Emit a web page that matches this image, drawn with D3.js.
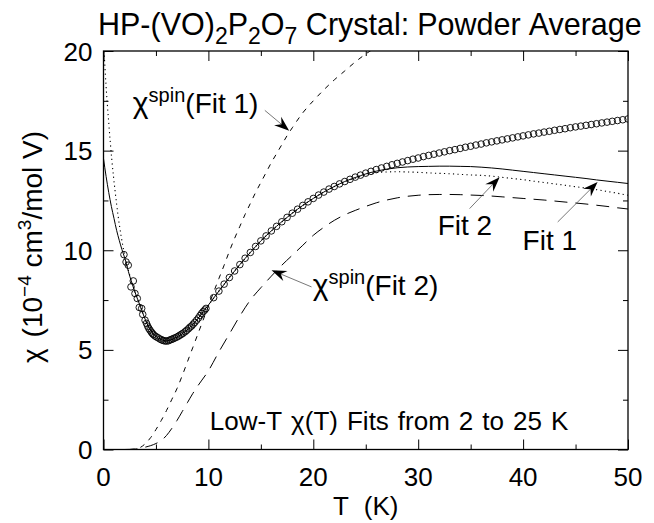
<!DOCTYPE html>
<html><head><meta charset="utf-8">
<script src="https://cdn.jsdelivr.net/npm/d3@7"></script>
<style>body{margin:0;background:#fff}svg{display:block}text{font-family:"Liberation Sans",Arial,Helvetica,sans-serif;fill:#000}</style>
</head><body>
<script>
// ---- data ----
const dataT = [1.95,2.15,2.36,2.62,2.84,3.0,3.22,3.41,3.64,3.74,3.96,4.1,4.21,4.32,4.43,4.55,4.65,4.75,4.9,5.05,5.22,5.4,5.55,5.7,5.85,6.02,6.2,6.35,6.5,6.65,6.8,6.98,7.15,7.3,7.45,7.6,7.78,7.93,8.1,8.25,8.4,8.55,8.7,8.88,9.05,9.2,9.36,9.5,9.65,9.77,
 10.5,11,11.5,12,12.5,13,13.5,14,14.5,15,15.5,16,16.5,17,17.5,18,18.5,19,19.5,20,20.5,21,21.5,22,22.5,23,23.5,24,24.5,25,25.5,26,26.5,27,27.5,28,28.5,29,29.5,30,30.5,31,31.5,32,32.5,33,33.5,34,34.5,35,35.5,36,36.5,37,37.5,38,38.5,39,39.5,40,40.5,41,41.5,42,42.5,43,43.5,44,44.5,45,45.5,46,46.5,47,47.5,48,48.5,49,49.5,50];
const dataChi = [9.78,9.41,9.25,8.16,8.46,7.83,7.58,7.13,7.08,6.78,6.49,6.33,6.19,6.08,5.99,5.9,5.83,5.77,5.7,5.65,5.6,5.54,5.5,5.47,5.45,5.44,5.46,5.5,5.53,5.56,5.6,5.64,5.69,5.74,5.79,5.84,5.91,5.98,6.06,6.14,6.2,6.29,6.38,6.49,6.6,6.72,6.83,6.92,7.0,7.08,
 7.62,7.95,8.3,8.63,8.96,9.28,9.6,9.89,10.19,10.47,10.72,10.97,11.2,11.43,11.65,11.86,12.06,12.25,12.43,12.6,12.77,12.92,13.07,13.2,13.33,13.45,13.56,13.67,13.77,13.87,13.96,14.05,14.13,14.21,14.29,14.36,14.43,14.5,14.57,14.63,14.7,14.76,14.82,14.88,14.94,15.0,15.05,15.11,15.17,15.22,15.28,15.33,15.39,15.44,15.49,15.54,15.59,15.64,15.69,15.74,15.79,15.84,15.88,15.93,15.97,16.02,16.06,16.1,16.15,16.19,16.23,16.27,16.31,16.35,16.39,16.43,16.47,16.51,16.55,16.59];

const fit1T   = [0,0.25,0.5,0.75,1,1.25,1.5,1.75,2,2.5,3,3.5,4,4.5,5,5.5,6,6.5,7,7.5,8,8.5,9,9.5,10,11,12,13,14,15,16,17,18,19,20,21,22,23,24,25,26,27,28,29,30,31,32,33,34,35,36,37,38,39,40,41,42,43,44,45,46,47,48,49,50];
const fit1Chi = [14.6,13.7,12.9,12.2,11.6,11.0,10.5,10.05,9.65,8.7,7.9,7.2,6.5,5.98,5.67,5.52,5.45,5.52,5.64,5.81,6.01,6.26,6.57,6.92,7.25,7.95,8.63,9.28,9.89,10.47,10.97,11.43,11.86,12.25,12.6,12.92,13.2,13.45,13.65,13.83,13.97,14.07,14.14,14.18,14.2,14.21,14.22,14.22,14.21,14.2,14.17,14.13,14.08,14.02,13.96,13.9,13.84,13.78,13.72,13.66,13.6,13.53,13.47,13.41,13.35];

const fit2T   = [0.05,0.25,0.5,0.8,1.1,1.4,1.7,2,2.5,3,3.5,4,4.5,5,5.5,6,6.5,7,7.5,8,8.5,9,9.5,10,11,12,13,14,15,16,17,18,19,20,21,22,23,24,25,26,27,28,29,30,31,32,33,34,35,36,37,38,39,40,41,42,43,44,45,46,47,48,49,50];
const fit2Chi = [20.0,18.2,16.4,14.5,13.0,11.7,10.65,9.8,8.75,7.9,7.2,6.5,5.98,5.67,5.52,5.45,5.52,5.64,5.81,6.01,6.26,6.57,6.92,7.25,7.95,8.63,9.28,9.89,10.47,10.97,11.43,11.86,12.25,12.6,12.92,13.2,13.43,13.62,13.78,13.9,13.93,13.94,13.93,13.91,13.88,13.86,13.84,13.81,13.78,13.76,13.72,13.66,13.6,13.54,13.47,13.4,13.33,13.26,13.19,13.12,13.04,12.95,12.86,12.76];

const spin1T   = [2.5,3,3.5,4,4.5,5,5.5,6,6.5,7,7.5,8,8.5,9,9.5,10,10.5,11,11.5,12,12.5,13,13.5,14,14.5,15,15.5,16,16.5,17,17.5,18,19,20,21,22,23,24,25,26];
const spin1Chi = [0,0.02,0.1,0.3,0.6,1.0,1.45,1.95,2.5,3.05,3.7,4.4,5.1,5.8,6.5,7.2,7.9,8.58,9.25,9.95,10.6,11.2,11.8,12.35,12.9,13.4,13.9,14.4,14.85,15.3,15.75,16.15,16.9,17.5,18.05,18.55,19.0,19.45,19.85,20.2];

const spin2T   = [2,3,4,5,5.5,6,6.5,7,7.5,8,8.5,9,10,11,12,13,14,15,16,17,18,19,20,21,22,23,24,25,26,27,28,29,30,31,32,33,34,35,36,37,38,39,40,41,42,43,44,45,46,47,48,49,50];
const spin2Chi = [0,0.02,0.12,0.3,0.45,0.7,1.05,1.45,1.9,2.35,2.8,3.2,3.95,4.9,5.8,6.7,7.5,8.12,8.7,9.25,9.75,10.25,10.75,11.15,11.5,11.78,12.0,12.2,12.38,12.52,12.63,12.71,12.76,12.79,12.8,12.8,12.79,12.77,12.75,12.72,12.68,12.64,12.6,12.56,12.52,12.47,12.42,12.37,12.32,12.26,12.2,12.13,12.07];

const xTicks = [0,10,20,30,40,50];
const xMinor = [5,15,25,35,45];
const yTicks = [0,5,10,15,20];
const yMinor = [2.5,7.5,12.5,17.5];

// ---- layout ----
const W = 654, H = 523;
const L = 103.5, R = 628, T0 = 51, B = 449.5;
const svg = d3.select("body").append("svg").attr("width", W).attr("height", H);
const x = d3.scaleLinear().domain([0,50]).range([L,R]);
const y = d3.scaleLinear().domain([0,20]).range([B,T0]);

svg.append("defs").append("clipPath").attr("id","clip")
  .append("rect").attr("x",L).attr("y",T0).attr("width",R-L).attr("height",B-T0);

const g = svg.append("g").attr("clip-path","url(#clip)");
const line = (tt, cc) => d3.line().x((d,i)=>x(tt[i])).y((d,i)=>y(cc[i])).curve(d3.curveMonotoneX)(tt);

g.append("path").attr("d", line(spin1T, spin1Chi)).attr("fill","none").attr("stroke","#000").attr("stroke-width",1).attr("stroke-dasharray","5,6");
g.append("path").attr("d", line(spin2T, spin2Chi)).attr("fill","none").attr("stroke","#000").attr("stroke-width",1).attr("stroke-dasharray","13,8");
g.append("path").attr("d", line(fit2T, fit2Chi)).attr("fill","none").attr("stroke","#000").attr("stroke-width",1.1).attr("stroke-dasharray","1.2,3.3");
g.append("path").attr("d", line(fit1T, fit1Chi)).attr("fill","none").attr("stroke","#000").attr("stroke-width",1);

g.selectAll("circle.d").data(dataT).enter().append("circle")
  .attr("cx",(d)=>x(d)).attr("cy",(d,i)=>y(dataChi[i])).attr("r",3.3)
  .attr("fill","none").attr("stroke","#000").attr("stroke-width",0.9);

// ---- axes (ticks inward on all sides) ----
const ax = svg.append("g");
ax.append("g").attr("transform",`translate(0,${B})`).call(d3.axisBottom(x).tickValues(xTicks).tickSize(-10).tickFormat(""));
ax.append("g").attr("transform",`translate(0,${B})`).call(d3.axisBottom(x).tickValues(xMinor).tickSize(-5).tickFormat(""));
ax.append("g").attr("transform",`translate(0,${T0})`).call(d3.axisTop(x).tickValues(xTicks).tickSize(-10).tickFormat(""));
ax.append("g").attr("transform",`translate(0,${T0})`).call(d3.axisTop(x).tickValues(xMinor).tickSize(-5).tickFormat(""));
ax.append("g").attr("transform",`translate(${L},0)`).call(d3.axisLeft(y).tickValues(yTicks).tickSize(-10).tickFormat(""));
ax.append("g").attr("transform",`translate(${L},0)`).call(d3.axisLeft(y).tickValues(yMinor).tickSize(-5).tickFormat(""));
ax.append("g").attr("transform",`translate(${R},0)`).call(d3.axisRight(y).tickValues(yTicks).tickSize(-10).tickFormat(""));
ax.append("g").attr("transform",`translate(${R},0)`).call(d3.axisRight(y).tickValues(yMinor).tickSize(-5).tickFormat(""));
ax.selectAll("path.domain").remove();
ax.selectAll("line").attr("stroke","#000").attr("stroke-width",1);
svg.append("rect").attr("x",L).attr("y",T0).attr("width",R-L).attr("height",B-T0)
  .attr("fill","none").attr("stroke","#000").attr("stroke-width",1.3);

// tick labels
svg.selectAll("text.xt").data(xTicks).enter().append("text")
  .attr("x",d=>x(d)).attr("y",B+36).attr("text-anchor","middle").attr("font-size",26).text(d=>d);
svg.selectAll("text.yt").data(yTicks).enter().append("text")
  .attr("x",L-11).attr("y",d=>y(d)+9.5).attr("text-anchor","end").attr("font-size",26).text(d=>d);

// axis titles
const xl = svg.append("text").attr("x",(L+R)/2).attr("y",515).attr("text-anchor","middle").attr("font-size",26);
xl.append("tspan").text("T");
xl.append("tspan").attr("dx",15).text("(K)");
const yl = svg.append("text").attr("transform",`translate(42,247) rotate(-90)`).attr("text-anchor","middle").attr("font-size",28);
yl.append("tspan").text("χ");
yl.append("tspan").attr("dx",11).text("(10");
yl.append("tspan").attr("dy",-11).attr("font-size",19).text("−4");
yl.append("tspan").attr("dy",11).text(" cm");
yl.append("tspan").attr("dy",-11).attr("font-size",19).text("3");
yl.append("tspan").attr("dy",11).text("/mol V)");

// title
const tt = svg.append("text").attr("x",98).attr("y",35).attr("font-size",30.5);
tt.append("tspan").text("HP-(VO)");
tt.append("tspan").attr("dy",9).attr("font-size",23).text("2");
tt.append("tspan").attr("dy",-9).text("P");
tt.append("tspan").attr("dy",9).attr("font-size",23).text("2");
tt.append("tspan").attr("dy",-9).text("O");
tt.append("tspan").attr("dy",9).attr("font-size",23).text("7");
tt.append("tspan").attr("dy",-9).text(" Crystal:");
tt.append("tspan").attr("dx",8).text("Powder");
tt.append("tspan").attr("dx",8).text("Average");

// annotations
function chiLabel(tx, ty, fit){
  const t = svg.append("text").attr("x",x(tx)).attr("y",y(ty)).attr("font-size",28);
  t.append("tspan").attr("font-size",30).text("χ");
  t.append("tspan").attr("dy",-11).attr("font-size",20).text("spin");
  t.append("tspan").attr("dy",11).text("(" + fit + ")");
}
chiLabel(2.8, 16.9, "Fit 1");
chiLabel(19.95, 7.75, "Fit 2");
svg.append("text").attr("x",x(31.86)).attr("y",y(10.75)).attr("font-size",28).text("Fit 2");
svg.append("text").attr("x",x(39.95)).attr("y",y(10.0)).attr("font-size",28).text("Fit 1");
const low = svg.append("text").attr("x",x(10.14)).attr("y",y(1.0)).attr("font-size",26);
["Low-T","χ(T)","Fits","from","2","to","25","K"].forEach((w,i)=>{
  low.append("tspan").attr("dx", i===0 ? 0 : 9).text(w);
});

function arrow(t1,c1,t2,c2){
  const x1=x(t1), y1=y(c1), x2=x(t2), y2=y(c2);
  const a = Math.atan2(y2-y1, x2-x1);
  const len = 15, wid = 5.5, back = 10;
  const bx = x2 - len*Math.cos(a), by = y2 - len*Math.sin(a);
  const nx = -Math.sin(a), ny = Math.cos(a);
  const ix = x2 - back*Math.cos(a), iy = y2 - back*Math.sin(a);
  svg.append("line").attr("x1",x1).attr("y1",y1).attr("x2",ix).attr("y2",iy).attr("stroke","#555").attr("stroke-width",0.8);
  svg.append("path").attr("d",`M${x2},${y2} L${bx+nx*wid},${by+ny*wid} L${ix},${iy} L${bx-nx*wid},${by-ny*wid} Z`).attr("fill","#000");
}
arrow(15.38,17.02, 17.7,16.0);
arrow(19.83,8.16, 16.02,9.0);
arrow(34.9,12.09, 37.76,13.67);
arrow(43.3,11.42, 47.1,13.42);
</script>
</body></html>
